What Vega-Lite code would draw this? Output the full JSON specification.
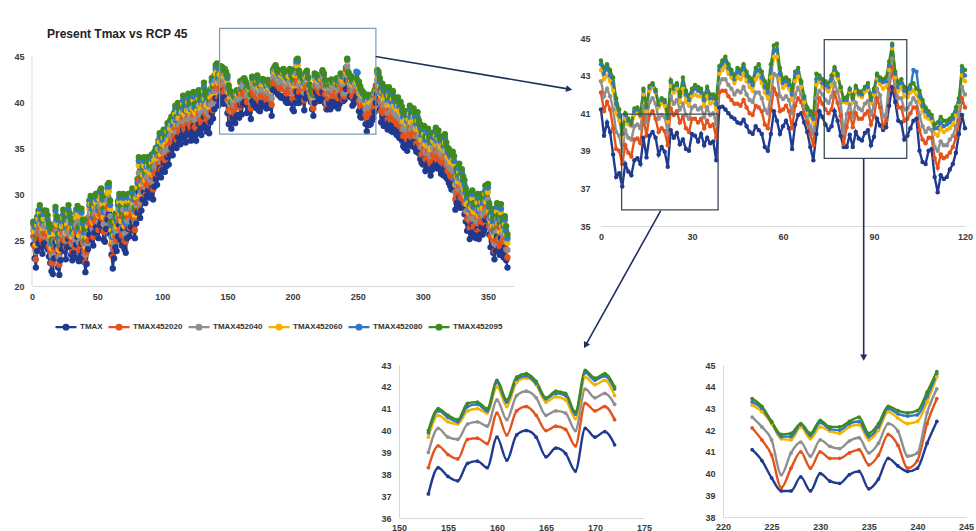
{
"$schema":"https://vega.github.io/schema/vega-lite/v6.json",
"background":"white",
"padding":{"top":27,"left":13,"right":3,"bottom":0},
"bounds":"full",
"spacing":0,
"resolve":{"legend":{"color":"independent"}},
"config":{"view":{"stroke":null},"axis":{"grid":false,"ticks":false,"labelFlush":false,"domainColor":"#d9d9d9","domainWidth":1,"labelFont":"Liberation Sans","labelFontSize":9,"labelFontWeight":"bold","labelColor":"#3a3a3a","labelPadding":6}},
"datasets":{"t":[
{"d":1,"a":24.5,"b":25.4,"c":26.0,"e":26.5,"f":26.8,"g":27.0},
{"d":2,"a":23.0,"b":24.3,"c":25.1,"e":25.9,"f":26.4,"g":26.8},
{"d":3,"a":22.0,"b":22.9,"c":23.7,"e":24.5,"f":25.0,"g":25.4},
{"d":4,"a":23.8,"b":25.0,"c":25.8,"e":26.6,"f":27.0,"g":27.5},
{"d":5,"a":24.6,"b":25.7,"c":26.5,"e":27.3,"f":27.8,"g":28.2},
{"d":6,"a":25.0,"b":26.3,"c":27.1,"e":27.9,"f":28.4,"g":28.8},
{"d":7,"a":24.2,"b":25.1,"c":25.9,"e":26.7,"f":27.2,"g":27.6},
{"d":8,"a":23.5,"b":24.7,"c":25.5,"e":26.3,"f":26.7,"g":27.2},
{"d":9,"a":24.6,"b":25.7,"c":26.5,"e":27.3,"f":27.8,"g":28.2},
{"d":10,"a":24.4,"b":25.7,"c":26.5,"e":27.3,"f":27.8,"g":28.2},
{"d":11,"a":24.8,"b":25.7,"c":26.5,"e":27.3,"f":27.8,"g":28.2},
{"d":12,"a":24.0,"b":25.2,"c":26.0,"e":26.8,"f":27.2,"g":27.7},
{"d":13,"a":23.2,"b":24.3,"c":25.1,"e":25.9,"f":26.4,"g":26.8},
{"d":14,"a":22.5,"b":23.8,"c":24.6,"e":25.4,"f":25.9,"g":26.3},
{"d":15,"a":21.6,"b":22.5,"c":23.3,"e":24.1,"f":24.6,"g":25.0},
{"d":16,"a":21.3,"b":22.5,"c":23.3,"e":24.1,"f":24.5,"g":25.0},
{"d":17,"a":23.0,"b":24.1,"c":24.9,"e":25.7,"f":26.2,"g":26.6},
{"d":18,"a":24.8,"b":26.1,"c":26.9,"e":27.7,"f":28.2,"g":28.6},
{"d":19,"a":24.2,"b":25.1,"c":25.9,"e":26.7,"f":27.2,"g":27.6},
{"d":20,"a":22.0,"b":23.2,"c":24.0,"e":24.8,"f":25.2,"g":25.7},
{"d":21,"a":21.2,"b":22.3,"c":23.1,"e":23.9,"f":24.4,"g":24.8},
{"d":22,"a":22.8,"b":24.1,"c":24.9,"e":25.7,"f":26.2,"g":26.6},
{"d":23,"a":24.0,"b":24.9,"c":25.7,"e":26.5,"f":27.0,"g":27.4},
{"d":24,"a":24.6,"b":25.8,"c":26.6,"e":27.4,"f":27.8,"g":28.3},
{"d":25,"a":23.8,"b":24.9,"c":25.7,"e":26.5,"f":27.0,"g":27.4},
{"d":26,"a":22.9,"b":24.2,"c":25.0,"e":25.8,"f":26.3,"g":26.7},
{"d":27,"a":24.2,"b":25.1,"c":25.9,"e":26.7,"f":27.2,"g":27.6},
{"d":28,"a":25.1,"b":26.3,"c":27.1,"e":27.9,"f":28.3,"g":28.8},
{"d":29,"a":24.3,"b":25.4,"c":26.2,"e":27.0,"f":27.5,"g":27.9},
{"d":30,"a":23.4,"b":24.7,"c":25.5,"e":26.3,"f":26.8,"g":27.2},
{"d":31,"a":22.8,"b":23.7,"c":24.5,"e":25.3,"f":25.8,"g":26.2},
{"d":32,"a":23.6,"b":24.8,"c":25.6,"e":26.4,"f":26.8,"g":27.3},
{"d":33,"a":23.1,"b":24.2,"c":25.0,"e":25.8,"f":26.3,"g":26.7},
{"d":34,"a":24.5,"b":25.8,"c":26.6,"e":27.4,"f":27.9,"g":28.3},
{"d":35,"a":25.3,"b":26.2,"c":27.0,"e":27.8,"f":28.3,"g":28.7},
{"d":36,"a":22.7,"b":23.9,"c":24.7,"e":25.5,"f":25.9,"g":26.4},
{"d":37,"a":23.0,"b":24.1,"c":24.9,"e":25.7,"f":26.2,"g":26.6},
{"d":38,"a":24.6,"b":25.9,"c":26.7,"e":27.5,"f":28.0,"g":28.4},
{"d":39,"a":23.8,"b":24.7,"c":25.5,"e":26.3,"f":26.8,"g":27.2},
{"d":40,"a":22.6,"b":23.8,"c":24.6,"e":25.4,"f":25.8,"g":26.3},
{"d":41,"a":21.5,"b":22.6,"c":23.4,"e":24.2,"f":24.7,"g":25.1},
{"d":42,"a":22.4,"b":23.7,"c":24.5,"e":25.3,"f":25.8,"g":26.2},
{"d":43,"a":24.0,"b":24.9,"c":25.7,"e":26.5,"f":27.0,"g":27.4},
{"d":44,"a":25.6,"b":26.8,"c":27.6,"e":28.4,"f":28.8,"g":29.3},
{"d":45,"a":26.2,"b":27.3,"c":28.1,"e":28.9,"f":29.4,"g":29.8},
{"d":46,"a":25.0,"b":26.3,"c":27.1,"e":27.9,"f":28.4,"g":28.8},
{"d":47,"a":24.4,"b":25.3,"c":26.1,"e":26.9,"f":27.4,"g":27.8},
{"d":48,"a":25.8,"b":27.0,"c":27.8,"e":28.6,"f":29.0,"g":29.5},
{"d":49,"a":26.4,"b":27.5,"c":28.3,"e":29.1,"f":29.6,"g":30.0},
{"d":50,"a":26.0,"b":27.3,"c":28.1,"e":28.9,"f":29.4,"g":29.8},
{"d":51,"a":25.2,"b":26.1,"c":26.9,"e":27.7,"f":28.2,"g":28.6},
{"d":52,"a":26.6,"b":27.8,"c":28.6,"e":29.4,"f":29.8,"g":30.3},
{"d":53,"a":27.0,"b":28.1,"c":28.9,"e":29.7,"f":30.2,"g":30.6},
{"d":54,"a":26.0,"b":27.3,"c":28.1,"e":28.9,"f":29.4,"g":29.8},
{"d":55,"a":25.0,"b":25.9,"c":26.7,"e":27.5,"f":28.0,"g":28.4},
{"d":56,"a":24.8,"b":26.0,"c":26.8,"e":27.6,"f":28.0,"g":28.5},
{"d":57,"a":26.2,"b":27.3,"c":28.1,"e":28.9,"f":29.4,"g":29.8},
{"d":58,"a":27.2,"b":28.5,"c":29.3,"e":30.1,"f":30.6,"g":31.0},
{"d":59,"a":27.8,"b":28.7,"c":29.5,"e":30.3,"f":30.8,"g":31.2},
{"d":60,"a":25.6,"b":26.8,"c":27.6,"e":28.4,"f":28.8,"g":29.3},
{"d":61,"a":23.4,"b":24.5,"c":25.3,"e":26.1,"f":26.6,"g":27.0},
{"d":62,"a":21.9,"b":23.2,"c":24.0,"e":24.8,"f":25.3,"g":25.7},
{"d":63,"a":23.0,"b":23.9,"c":24.7,"e":25.5,"f":26.0,"g":26.4},
{"d":64,"a":24.2,"b":25.4,"c":26.2,"e":27.0,"f":27.4,"g":27.9},
{"d":65,"a":23.8,"b":24.9,"c":25.7,"e":26.5,"f":27.0,"g":27.4},
{"d":66,"a":25.4,"b":26.7,"c":27.5,"e":28.3,"f":28.8,"g":29.2},
{"d":67,"a":26.6,"b":27.5,"c":28.3,"e":29.1,"f":29.6,"g":30.0},
{"d":68,"a":25.0,"b":26.2,"c":27.0,"e":27.8,"f":28.2,"g":28.7},
{"d":69,"a":24.4,"b":25.5,"c":26.3,"e":27.1,"f":27.6,"g":28.0},
{"d":70,"a":26.2,"b":27.5,"c":28.3,"e":29.1,"f":29.6,"g":30.0},
{"d":71,"a":24.0,"b":24.9,"c":25.7,"e":26.5,"f":27.0,"g":27.4},
{"d":72,"a":23.6,"b":24.8,"c":25.6,"e":26.4,"f":26.8,"g":27.3},
{"d":73,"a":25.2,"b":26.3,"c":27.1,"e":27.9,"f":28.4,"g":28.8},
{"d":74,"a":26.2,"b":27.5,"c":28.3,"e":29.1,"f":29.6,"g":30.0},
{"d":75,"a":25.4,"b":26.3,"c":27.1,"e":27.9,"f":28.4,"g":28.8},
{"d":76,"a":26.4,"b":27.6,"c":28.4,"e":29.2,"f":29.6,"g":30.1},
{"d":77,"a":27.0,"b":28.1,"c":28.9,"e":29.7,"f":30.2,"g":30.6},
{"d":78,"a":26.0,"b":27.3,"c":28.1,"e":28.9,"f":29.4,"g":29.8},
{"d":79,"a":25.2,"b":26.1,"c":26.9,"e":27.7,"f":28.2,"g":28.6},
{"d":80,"a":26.8,"b":28.0,"c":28.8,"e":29.6,"f":30.0,"g":30.5},
{"d":81,"a":28.0,"b":29.1,"c":29.9,"e":30.7,"f":31.2,"g":31.6},
{"d":82,"a":30.2,"b":31.5,"c":32.3,"e":33.1,"f":33.6,"g":34.0},
{"d":83,"a":27.4,"b":28.3,"c":29.1,"e":29.9,"f":30.4,"g":30.8},
{"d":84,"a":28.2,"b":29.4,"c":30.2,"e":31.0,"f":31.4,"g":31.9},
{"d":85,"a":29.4,"b":30.5,"c":31.3,"e":32.1,"f":32.6,"g":33.0},
{"d":86,"a":30.2,"b":31.5,"c":32.3,"e":33.1,"f":33.6,"g":34.0},
{"d":87,"a":29.0,"b":29.9,"c":30.7,"e":31.5,"f":32.0,"g":32.4},
{"d":88,"a":29.8,"b":31.0,"c":31.8,"e":32.6,"f":33.0,"g":33.5},
{"d":89,"a":30.4,"b":31.5,"c":32.3,"e":33.1,"f":33.6,"g":34.0},
{"d":90,"a":29.6,"b":30.9,"c":31.7,"e":32.5,"f":33.0,"g":33.4},
{"d":91,"a":29.8,"b":30.7,"c":31.5,"e":32.3,"f":32.8,"g":33.2},
{"d":92,"a":30.6,"b":31.8,"c":32.6,"e":33.4,"f":33.8,"g":34.3},
{"d":93,"a":29.4,"b":30.5,"c":31.3,"e":32.1,"f":32.6,"g":33.0},
{"d":94,"a":30.8,"b":32.1,"c":32.9,"e":33.7,"f":34.2,"g":34.6},
{"d":95,"a":31.6,"b":32.5,"c":33.3,"e":34.1,"f":34.6,"g":35.0},
{"d":96,"a":31.0,"b":32.2,"c":33.0,"e":33.8,"f":34.2,"g":34.7},
{"d":97,"a":32.2,"b":33.3,"c":34.1,"e":34.9,"f":35.4,"g":35.8},
{"d":98,"a":32.8,"b":34.1,"c":34.9,"e":35.7,"f":36.2,"g":36.6},
{"d":99,"a":31.8,"b":32.7,"c":33.5,"e":34.3,"f":34.8,"g":35.2},
{"d":100,"a":32.6,"b":33.8,"c":34.6,"e":35.4,"f":35.8,"g":36.3},
{"d":101,"a":33.4,"b":34.5,"c":35.3,"e":36.1,"f":36.6,"g":37.0},
{"d":102,"a":32.4,"b":33.7,"c":34.5,"e":35.3,"f":35.8,"g":36.2},
{"d":103,"a":33.0,"b":33.9,"c":34.7,"e":35.5,"f":36.0,"g":36.4},
{"d":104,"a":34.0,"b":35.2,"c":36.0,"e":36.8,"f":37.2,"g":37.7},
{"d":105,"a":33.2,"b":34.3,"c":35.1,"e":35.9,"f":36.4,"g":36.8},
{"d":106,"a":34.2,"b":35.5,"c":36.3,"e":37.1,"f":37.6,"g":38.0},
{"d":107,"a":35.0,"b":35.9,"c":36.7,"e":37.5,"f":38.0,"g":38.4},
{"d":108,"a":34.2,"b":35.4,"c":36.2,"e":37.0,"f":37.4,"g":37.9},
{"d":109,"a":35.2,"b":36.3,"c":37.1,"e":37.9,"f":38.4,"g":38.8},
{"d":110,"a":35.8,"b":37.1,"c":37.9,"e":38.7,"f":39.2,"g":39.6},
{"d":111,"a":35.0,"b":35.9,"c":36.7,"e":37.5,"f":38.0,"g":38.4},
{"d":112,"a":36.2,"b":37.4,"c":38.2,"e":39.0,"f":39.4,"g":39.9},
{"d":113,"a":35.6,"b":36.7,"c":37.5,"e":38.3,"f":38.8,"g":39.2},
{"d":114,"a":35.4,"b":36.7,"c":37.5,"e":38.3,"f":38.8,"g":39.2},
{"d":115,"a":36.4,"b":37.3,"c":38.1,"e":38.9,"f":39.4,"g":39.8},
{"d":116,"a":37.0,"b":38.2,"c":39.0,"e":39.8,"f":40.2,"g":40.7},
{"d":117,"a":36.0,"b":37.1,"c":37.9,"e":38.7,"f":39.2,"g":39.6},
{"d":118,"a":35.6,"b":36.9,"c":37.7,"e":38.5,"f":39.0,"g":39.4},
{"d":119,"a":36.6,"b":37.5,"c":38.3,"e":39.1,"f":39.6,"g":40.0},
{"d":120,"a":37.2,"b":38.4,"c":39.2,"e":40.0,"f":40.4,"g":40.9},
{"d":121,"a":36.4,"b":37.5,"c":38.3,"e":39.1,"f":39.6,"g":40.0},
{"d":122,"a":35.8,"b":37.1,"c":37.9,"e":38.7,"f":39.2,"g":39.6},
{"d":123,"a":36.8,"b":37.7,"c":38.5,"e":39.3,"f":39.8,"g":40.2},
{"d":124,"a":37.4,"b":38.6,"c":39.4,"e":40.2,"f":40.6,"g":41.1},
{"d":125,"a":36.2,"b":37.3,"c":38.1,"e":38.9,"f":39.4,"g":39.8},
{"d":126,"a":35.8,"b":37.1,"c":37.9,"e":38.7,"f":39.2,"g":39.6},
{"d":127,"a":36.6,"b":37.5,"c":38.3,"e":39.1,"f":39.6,"g":40.0},
{"d":128,"a":37.6,"b":38.8,"c":39.6,"e":40.4,"f":40.8,"g":41.3},
{"d":129,"a":37.0,"b":38.1,"c":38.9,"e":39.7,"f":40.2,"g":40.6},
{"d":130,"a":36.4,"b":37.7,"c":38.5,"e":39.3,"f":39.8,"g":40.2},
{"d":131,"a":37.2,"b":38.1,"c":38.9,"e":39.7,"f":40.2,"g":40.6},
{"d":132,"a":38.4,"b":39.6,"c":40.4,"e":41.2,"f":41.6,"g":42.1},
{"d":133,"a":37.6,"b":38.7,"c":39.5,"e":40.3,"f":40.8,"g":41.2},
{"d":134,"a":36.8,"b":38.1,"c":38.9,"e":39.7,"f":40.2,"g":40.6},
{"d":135,"a":37.4,"b":38.3,"c":39.1,"e":39.9,"f":40.4,"g":40.8},
{"d":136,"a":36.6,"b":37.8,"c":38.6,"e":39.4,"f":39.8,"g":40.3},
{"d":137,"a":37.8,"b":38.9,"c":39.7,"e":40.5,"f":41.0,"g":41.4},
{"d":138,"a":38.8,"b":40.1,"c":40.9,"e":41.7,"f":42.2,"g":42.6},
{"d":139,"a":38.2,"b":39.1,"c":39.9,"e":40.7,"f":41.2,"g":41.6},
{"d":140,"a":39.2,"b":40.4,"c":41.2,"e":42.0,"f":42.4,"g":42.9},
{"d":141,"a":40.4,"b":41.5,"c":42.3,"e":43.1,"f":43.6,"g":44.0},
{"d":142,"a":40.4,"b":41.7,"c":42.5,"e":43.3,"f":43.8,"g":44.2},
{"d":143,"a":39.6,"b":40.5,"c":41.3,"e":42.1,"f":42.6,"g":43.0},
{"d":144,"a":40.2,"b":41.4,"c":42.2,"e":43.0,"f":43.4,"g":43.9},
{"d":145,"a":40.6,"b":41.7,"c":42.5,"e":43.2,"f":43.6,"g":43.9},
{"d":146,"a":41.2,"b":42.1,"c":42.7,"e":43.3,"f":43.6,"g":43.8},
{"d":147,"a":39.8,"b":41.1,"c":41.9,"e":42.8,"f":43.1,"g":43.4},
{"d":148,"a":40.5,"b":41.6,"c":42.3,"e":43.0,"f":43.4,"g":43.6},
{"d":149,"a":40.0,"b":41.2,"c":41.9,"e":42.7,"f":43.0,"g":43.3},
{"d":150,"a":38.8,"b":40.2,"c":41.2,"e":42.2,"f":42.6,"g":42.9},
{"d":151,"a":37.6,"b":39.1,"c":40.0,"e":41.0,"f":41.5,"g":41.8},
{"d":152,"a":37.8,"b":39.0,"c":39.8,"e":40.6,"f":40.9,"g":41.2},
{"d":153,"a":37.1,"b":38.3,"c":39.0,"e":39.7,"f":39.9,"g":40.0},
{"d":154,"a":38.3,"b":39.3,"c":40.1,"e":40.7,"f":40.9,"g":41.0},
{"d":155,"a":37.9,"b":38.9,"c":39.7,"e":40.4,"f":40.6,"g":40.7},
{"d":156,"a":37.7,"b":38.7,"c":39.6,"e":40.3,"f":40.4,"g":40.5},
{"d":157,"a":38.5,"b":39.6,"c":40.3,"e":40.9,"f":41.1,"g":41.25},
{"d":158,"a":38.6,"b":39.65,"c":40.4,"e":41.0,"f":41.2,"g":41.3},
{"d":159,"a":38.3,"b":39.4,"c":40.2,"e":40.8,"f":40.9,"g":41.0},
{"d":160,"a":39.7,"b":40.8,"c":41.4,"e":42.0,"f":42.2,"g":42.3},
{"d":161,"a":38.65,"b":39.8,"c":40.5,"e":41.1,"f":41.3,"g":41.4},
{"d":162,"a":39.8,"b":40.9,"c":41.6,"e":42.2,"f":42.35,"g":42.45},
{"d":163,"a":40.0,"b":41.1,"c":41.8,"e":42.4,"f":42.5,"g":42.6},
{"d":164,"a":39.7,"b":40.7,"c":41.5,"e":42.1,"f":42.15,"g":42.25},
{"d":165,"a":38.8,"b":40.0,"c":40.7,"e":41.3,"f":41.45,"g":41.5},
{"d":166,"a":39.2,"b":40.2,"c":40.9,"e":41.55,"f":41.7,"g":41.8},
{"d":167,"a":38.95,"b":40.05,"c":40.8,"e":41.4,"f":41.6,"g":41.7},
{"d":168,"a":38.15,"b":39.3,"c":40.0,"e":40.55,"f":40.75,"g":40.85},
{"d":169,"a":40.1,"b":41.25,"c":41.9,"e":42.45,"f":42.65,"g":42.75},
{"d":170,"a":39.7,"b":40.9,"c":41.5,"e":42.1,"f":42.3,"g":42.4},
{"d":171,"a":39.95,"b":41.1,"c":41.7,"e":42.3,"f":42.5,"g":42.6},
{"d":172,"a":39.35,"b":40.5,"c":41.2,"e":41.6,"f":41.9,"g":42.0},
{"d":173,"a":39.6,"b":40.8,"c":41.5,"e":42.3,"f":42.6,"g":42.9},
{"d":174,"a":39.1,"b":40.2,"c":40.9,"e":41.6,"f":42.0,"g":42.2},
{"d":175,"a":39.0,"b":40.0,"c":40.7,"e":41.4,"f":41.7,"g":41.9},
{"d":176,"a":39.9,"b":40.7,"c":41.3,"e":41.9,"f":42.1,"g":42.3},
{"d":177,"a":39.8,"b":40.7,"c":41.4,"e":42.0,"f":42.3,"g":42.5},
{"d":178,"a":39.5,"b":40.5,"c":41.2,"e":41.9,"f":42.2,"g":42.4},
{"d":179,"a":39.9,"b":40.7,"c":41.3,"e":41.9,"f":42.1,"g":42.3},
{"d":180,"a":39.3,"b":40.2,"c":40.8,"e":41.4,"f":41.7,"g":41.9},
{"d":181,"a":39.7,"b":40.6,"c":41.3,"e":41.9,"f":42.2,"g":42.4},
{"d":182,"a":39.4,"b":40.3,"c":40.9,"e":41.5,"f":41.8,"g":42.0},
{"d":183,"a":39.5,"b":40.4,"c":41.0,"e":41.6,"f":41.8,"g":42.0},
{"d":184,"a":38.5,"b":39.7,"c":40.4,"e":41.2,"f":41.5,"g":41.8},
{"d":185,"a":41.3,"b":42.1,"c":42.6,"e":43.1,"f":43.3,"g":43.5},
{"d":186,"a":41.35,"b":42.2,"c":42.8,"e":43.3,"f":43.6,"g":43.8},
{"d":187,"a":41.2,"b":42.2,"c":42.8,"e":43.5,"f":43.8,"g":44.0},
{"d":188,"a":41.0,"b":41.9,"c":42.5,"e":43.1,"f":43.4,"g":43.6},
{"d":189,"a":40.8,"b":41.7,"c":42.3,"e":42.9,"f":43.1,"g":43.3},
{"d":190,"a":40.7,"b":41.5,"c":42.0,"e":42.6,"f":42.8,"g":43.0},
{"d":191,"a":40.5,"b":41.5,"c":42.2,"e":42.9,"f":43.2,"g":43.4},
{"d":192,"a":40.45,"b":41.4,"c":42.1,"e":42.8,"f":43.1,"g":43.3},
{"d":193,"a":40.65,"b":41.7,"c":42.4,"e":43.1,"f":43.4,"g":43.6},
{"d":194,"a":40.3,"b":41.3,"c":42.0,"e":42.7,"f":43.0,"g":43.2},
{"d":195,"a":40.0,"b":41.0,"c":41.7,"e":42.4,"f":42.7,"g":42.9},
{"d":196,"a":39.9,"b":40.9,"c":41.6,"e":42.2,"f":42.5,"g":42.75},
{"d":197,"a":40.3,"b":41.4,"c":42.1,"e":42.8,"f":43.2,"g":43.4},
{"d":198,"a":40.1,"b":41.3,"c":42.1,"e":43.0,"f":43.3,"g":43.6},
{"d":199,"a":39.9,"b":41.1,"c":41.8,"e":42.6,"f":42.9,"g":43.2},
{"d":200,"a":39.2,"b":40.4,"c":41.2,"e":42.1,"f":42.4,"g":42.7},
{"d":201,"a":39.0,"b":40.2,"c":41.0,"e":41.8,"f":42.1,"g":42.4},
{"d":202,"a":39.9,"b":41.2,"c":42.0,"e":42.9,"f":43.3,"g":43.6},
{"d":203,"a":41.1,"b":42.3,"c":43.1,"e":44.0,"f":44.3,"g":44.6},
{"d":204,"a":40.6,"b":42.0,"c":43.0,"e":44.0,"f":44.4,"g":44.7},
{"d":205,"a":39.9,"b":41.1,"c":41.9,"e":42.8,"f":43.1,"g":43.4},
{"d":206,"a":40.3,"b":41.2,"c":41.75,"e":42.35,"f":42.6,"g":42.8},
{"d":207,"a":40.6,"b":41.4,"c":41.9,"e":42.5,"f":42.7,"g":42.9},
{"d":208,"a":40.2,"b":41.1,"c":41.7,"e":42.3,"f":42.5,"g":42.75},
{"d":209,"a":39.1,"b":40.2,"c":41.0,"e":41.7,"f":42.0,"g":42.3},
{"d":210,"a":40.4,"b":41.4,"c":42.0,"e":42.7,"f":43.0,"g":43.2},
{"d":211,"a":40.9,"b":41.8,"c":42.35,"e":42.95,"f":43.2,"g":43.4},
{"d":212,"a":41.0,"b":41.6,"c":42.0,"e":42.4,"f":42.6,"g":42.7},
{"d":213,"a":40.5,"b":41.0,"c":41.3,"e":41.6,"f":41.8,"g":41.9},
{"d":214,"a":40.0,"b":40.5,"c":40.75,"e":41.05,"f":41.2,"g":41.3},
{"d":215,"a":39.2,"b":39.9,"c":40.3,"e":40.8,"f":40.9,"g":41.1},
{"d":216,"a":38.5,"b":39.3,"c":39.9,"e":40.5,"f":40.7,"g":40.9},
{"d":217,"a":39.9,"b":41.0,"c":41.8,"e":42.5,"f":42.8,"g":43.1},
{"d":218,"a":41.1,"b":41.8,"c":42.2,"e":42.7,"f":42.85,"g":43.0},
{"d":219,"a":40.8,"b":41.5,"c":42.0,"e":42.4,"f":42.6,"g":42.8},
{"d":220,"a":40.4,"b":41.2,"c":41.7,"e":42.3,"f":42.5,"g":42.7},
{"d":221,"a":40.1,"b":41.0,"c":41.55,"e":42.15,"f":42.4,"g":42.6},
{"d":222,"a":40.3,"b":41.2,"c":41.9,"e":42.5,"f":42.8,"g":43.0},
{"d":223,"a":41.1,"b":42.1,"c":42.6,"e":43.15,"f":43.3,"g":43.45},
{"d":224,"a":40.6,"b":41.55,"c":42.15,"e":42.85,"f":43.0,"g":43.1},
{"d":225,"a":39.8,"b":40.85,"c":41.55,"e":42.3,"f":42.35,"g":42.4},
{"d":226,"a":39.2,"b":39.35,"c":39.95,"e":41.6,"f":41.7,"g":41.8},
{"d":227,"a":39.2,"b":40.25,"c":40.95,"e":41.55,"f":41.7,"g":41.85},
{"d":228,"a":39.85,"b":41.0,"c":41.45,"e":42.15,"f":42.25,"g":42.3},
{"d":229,"a":39.2,"b":40.25,"c":40.8,"e":41.6,"f":41.75,"g":41.85},
{"d":230,"a":40.0,"b":41.0,"c":41.55,"e":42.15,"f":42.35,"g":42.45},
{"d":231,"a":39.65,"b":40.7,"c":41.25,"e":41.95,"f":42.05,"g":42.15},
{"d":232,"a":39.55,"b":40.7,"c":41.15,"e":41.85,"f":42.0,"g":42.15},
{"d":233,"a":39.95,"b":40.95,"c":41.5,"e":42.15,"f":42.3,"g":42.4},
{"d":234,"a":40.1,"b":41.1,"c":41.65,"e":42.25,"f":42.4,"g":42.6},
{"d":235,"a":39.3,"b":40.4,"c":40.95,"e":41.55,"f":41.7,"g":41.85},
{"d":236,"a":39.75,"b":40.85,"c":41.4,"e":42.0,"f":42.15,"g":42.3},
{"d":237,"a":40.7,"b":41.8,"c":42.3,"e":42.85,"f":43.0,"g":43.1},
{"d":238,"a":40.35,"b":41.3,"c":41.95,"e":42.55,"f":42.75,"g":42.9},
{"d":239,"a":40.1,"b":40.25,"c":40.8,"e":42.3,"f":42.65,"g":42.8},
{"d":240,"a":40.25,"b":40.6,"c":40.95,"e":42.4,"f":42.7,"g":42.9},
{"d":241,"a":41.4,"b":42.3,"c":42.8,"e":43.3,"f":43.55,"g":43.75},
{"d":242,"a":42.4,"b":43.45,"c":43.9,"e":44.45,"f":44.6,"g":44.7},
{"d":243,"a":41.6,"b":42.2,"c":42.5,"e":42.9,"f":43.1,"g":43.2},
{"d":244,"a":40.6,"b":41.3,"c":41.8,"e":42.2,"f":42.4,"g":42.6},
{"d":245,"a":40.5,"b":41.3,"c":41.8,"e":42.4,"f":42.6,"g":42.8},
{"d":246,"a":39.6,"b":40.6,"c":41.2,"e":41.9,"f":42.2,"g":42.4},
{"d":247,"a":39.8,"b":40.7,"c":41.25,"e":41.85,"f":42.1,"g":42.3},
{"d":248,"a":40.2,"b":41.0,"c":41.5,"e":42.1,"f":42.3,"g":42.5},
{"d":249,"a":40.6,"b":41.3,"c":41.8,"e":42.2,"f":43.3,"g":42.6},
{"d":250,"a":40.7,"b":41.3,"c":41.6,"e":42.0,"f":43.2,"g":42.3},
{"d":251,"a":39.0,"b":40.1,"c":40.9,"e":41.6,"f":41.9,"g":42.2},
{"d":252,"a":38.4,"b":39.6,"c":40.3,"e":41.1,"f":41.4,"g":41.7},
{"d":253,"a":38.3,"b":39.4,"c":40.0,"e":40.8,"f":41.1,"g":41.3},
{"d":254,"a":39.0,"b":39.7,"c":40.2,"e":40.7,"f":40.9,"g":41.1},
{"d":255,"a":39.1,"b":39.7,"c":40.1,"e":40.6,"f":40.75,"g":40.9},
{"d":256,"a":37.6,"b":38.6,"c":39.2,"e":39.9,"f":40.2,"g":40.4},
{"d":257,"a":36.8,"b":38.1,"c":39.0,"e":39.8,"f":40.2,"g":40.5},
{"d":258,"a":37.7,"b":38.8,"c":39.5,"e":40.2,"f":40.5,"g":40.8},
{"d":259,"a":37.5,"b":38.6,"c":39.3,"e":40.0,"f":40.3,"g":40.6},
{"d":260,"a":37.6,"b":38.7,"c":39.3,"e":40.1,"f":40.4,"g":40.6},
{"d":261,"a":38.0,"b":38.9,"c":39.6,"e":40.2,"f":40.5,"g":40.7},
{"d":262,"a":38.3,"b":39.2,"c":39.8,"e":40.4,"f":40.7,"g":40.9},
{"d":263,"a":38.9,"b":39.7,"c":40.3,"e":40.9,"f":41.1,"g":41.3},
{"d":264,"a":39.9,"b":40.6,"c":41.0,"e":41.5,"f":41.6,"g":41.8},
{"d":265,"a":40.9,"b":41.8,"c":42.4,"e":43.0,"f":43.3,"g":43.5},
{"d":266,"a":40.2,"b":41.3,"c":42.0,"e":42.7,"f":43.0,"g":43.3},
{"d":267,"a":39.2,"b":40.1,"c":40.9,"e":41.7,"f":42.2,"g":42.6},
{"d":268,"a":37.8,"b":39.0,"c":39.8,"e":40.6,"f":41.0,"g":41.5},
{"d":269,"a":38.4,"b":39.5,"c":40.3,"e":41.1,"f":41.6,"g":42.0},
{"d":270,"a":37.4,"b":38.7,"c":39.5,"e":40.3,"f":40.8,"g":41.2},
{"d":271,"a":38.2,"b":39.1,"c":39.9,"e":40.7,"f":41.2,"g":41.6},
{"d":272,"a":37.6,"b":38.8,"c":39.6,"e":40.4,"f":40.8,"g":41.3},
{"d":273,"a":37.0,"b":38.1,"c":38.9,"e":39.7,"f":40.2,"g":40.6},
{"d":274,"a":37.8,"b":39.1,"c":39.9,"e":40.7,"f":41.2,"g":41.6},
{"d":275,"a":37.2,"b":38.1,"c":38.9,"e":39.7,"f":40.2,"g":40.6},
{"d":276,"a":36.8,"b":38.0,"c":38.8,"e":39.6,"f":40.0,"g":40.5},
{"d":277,"a":37.6,"b":38.7,"c":39.5,"e":40.3,"f":40.8,"g":41.2},
{"d":278,"a":36.7,"b":38.0,"c":38.8,"e":39.6,"f":40.1,"g":40.5},
{"d":279,"a":37.0,"b":37.9,"c":38.7,"e":39.5,"f":40.0,"g":40.4},
{"d":280,"a":36.4,"b":37.6,"c":38.4,"e":39.2,"f":39.6,"g":40.1},
{"d":281,"a":36.9,"b":38.0,"c":38.8,"e":39.6,"f":40.1,"g":40.5},
{"d":282,"a":36.1,"b":37.4,"c":38.2,"e":39.0,"f":39.5,"g":39.9},
{"d":283,"a":36.6,"b":37.5,"c":38.3,"e":39.1,"f":39.6,"g":40.0},
{"d":284,"a":35.8,"b":37.0,"c":37.8,"e":38.6,"f":39.0,"g":39.5},
{"d":285,"a":35.2,"b":36.3,"c":37.1,"e":37.9,"f":38.4,"g":38.8},
{"d":286,"a":35.0,"b":36.3,"c":37.1,"e":37.9,"f":38.4,"g":38.8},
{"d":287,"a":35.6,"b":36.5,"c":37.3,"e":38.1,"f":38.6,"g":39.0},
{"d":288,"a":34.7,"b":35.9,"c":36.7,"e":37.5,"f":37.9,"g":38.4},
{"d":289,"a":35.4,"b":36.5,"c":37.3,"e":38.1,"f":38.6,"g":39.0},
{"d":290,"a":35.8,"b":37.1,"c":37.9,"e":38.7,"f":39.2,"g":39.6},
{"d":291,"a":35.3,"b":36.2,"c":37.0,"e":37.8,"f":38.3,"g":38.7},
{"d":292,"a":35.2,"b":36.4,"c":37.2,"e":38.0,"f":38.4,"g":38.9},
{"d":293,"a":35.7,"b":36.8,"c":37.6,"e":38.4,"f":38.9,"g":39.3},
{"d":294,"a":35.0,"b":36.3,"c":37.1,"e":37.9,"f":38.4,"g":38.8},
{"d":295,"a":34.6,"b":35.5,"c":36.3,"e":37.1,"f":37.6,"g":38.0},
{"d":296,"a":35.2,"b":36.4,"c":37.2,"e":38.0,"f":38.4,"g":38.9},
{"d":297,"a":34.4,"b":35.5,"c":36.3,"e":37.1,"f":37.6,"g":38.0},
{"d":298,"a":33.8,"b":35.1,"c":35.9,"e":36.7,"f":37.2,"g":37.6},
{"d":299,"a":33.4,"b":34.3,"c":35.1,"e":35.9,"f":36.4,"g":36.8},
{"d":300,"a":33.2,"b":34.4,"c":35.2,"e":36.0,"f":36.4,"g":36.9},
{"d":301,"a":33.8,"b":34.9,"c":35.7,"e":36.5,"f":37.0,"g":37.4},
{"d":302,"a":32.5,"b":33.8,"c":34.6,"e":35.4,"f":35.9,"g":36.3},
{"d":303,"a":32.8,"b":33.7,"c":34.5,"e":35.3,"f":35.8,"g":36.2},
{"d":304,"a":33.4,"b":34.6,"c":35.4,"e":36.2,"f":36.6,"g":37.1},
{"d":305,"a":32.6,"b":33.7,"c":34.5,"e":35.3,"f":35.8,"g":36.2},
{"d":306,"a":32.0,"b":33.3,"c":34.1,"e":34.9,"f":35.4,"g":35.8},
{"d":307,"a":32.6,"b":33.5,"c":34.3,"e":35.1,"f":35.6,"g":36.0},
{"d":308,"a":33.0,"b":34.2,"c":35.0,"e":35.8,"f":36.2,"g":36.7},
{"d":309,"a":32.9,"b":34.0,"c":34.8,"e":35.6,"f":36.1,"g":36.5},
{"d":310,"a":33.4,"b":34.7,"c":35.5,"e":36.3,"f":36.8,"g":37.2},
{"d":311,"a":32.8,"b":33.7,"c":34.5,"e":35.3,"f":35.8,"g":36.2},
{"d":312,"a":33.2,"b":34.4,"c":35.2,"e":36.0,"f":36.4,"g":36.9},
{"d":313,"a":32.7,"b":33.8,"c":34.6,"e":35.4,"f":35.9,"g":36.3},
{"d":314,"a":32.2,"b":33.5,"c":34.3,"e":35.1,"f":35.6,"g":36.0},
{"d":315,"a":32.8,"b":33.7,"c":34.5,"e":35.3,"f":35.8,"g":36.2},
{"d":316,"a":32.0,"b":33.2,"c":34.0,"e":34.8,"f":35.2,"g":35.7},
{"d":317,"a":32.9,"b":34.0,"c":34.8,"e":35.6,"f":36.1,"g":36.5},
{"d":318,"a":31.8,"b":33.1,"c":33.9,"e":34.7,"f":35.2,"g":35.6},
{"d":319,"a":31.6,"b":32.5,"c":33.3,"e":34.1,"f":34.6,"g":35.0},
{"d":320,"a":31.2,"b":32.4,"c":33.2,"e":34.0,"f":34.4,"g":34.9},
{"d":321,"a":30.9,"b":32.0,"c":32.8,"e":33.6,"f":34.1,"g":34.5},
{"d":322,"a":30.5,"b":31.8,"c":32.6,"e":33.4,"f":33.9,"g":34.3},
{"d":323,"a":31.2,"b":32.1,"c":32.9,"e":33.7,"f":34.2,"g":34.6},
{"d":324,"a":30.4,"b":31.6,"c":32.4,"e":33.2,"f":33.6,"g":34.1},
{"d":325,"a":28.3,"b":29.4,"c":30.2,"e":31.0,"f":31.5,"g":31.9},
{"d":326,"a":29.0,"b":30.3,"c":31.1,"e":31.9,"f":32.4,"g":32.8},
{"d":327,"a":28.9,"b":29.8,"c":30.6,"e":31.4,"f":31.9,"g":32.3},
{"d":328,"a":29.6,"b":30.8,"c":31.6,"e":32.4,"f":32.8,"g":33.3},
{"d":329,"a":28.5,"b":29.6,"c":30.4,"e":31.2,"f":31.7,"g":32.1},
{"d":330,"a":28.9,"b":30.2,"c":31.0,"e":31.8,"f":32.3,"g":32.7},
{"d":331,"a":28.5,"b":29.4,"c":30.2,"e":31.0,"f":31.5,"g":31.9},
{"d":332,"a":27.8,"b":29.0,"c":29.8,"e":30.6,"f":31.0,"g":31.5},
{"d":333,"a":27.0,"b":28.1,"c":28.9,"e":29.7,"f":30.2,"g":30.6},
{"d":334,"a":26.0,"b":27.3,"c":28.1,"e":28.9,"f":29.4,"g":29.8},
{"d":335,"a":26.6,"b":27.5,"c":28.3,"e":29.1,"f":29.6,"g":30.0},
{"d":336,"a":25.1,"b":26.3,"c":27.1,"e":27.9,"f":28.3,"g":28.8},
{"d":337,"a":25.8,"b":26.9,"c":27.7,"e":28.5,"f":29.0,"g":29.4},
{"d":338,"a":26.6,"b":27.9,"c":28.7,"e":29.5,"f":30.0,"g":30.4},
{"d":339,"a":25.6,"b":26.5,"c":27.3,"e":28.1,"f":28.6,"g":29.0},
{"d":340,"a":25.3,"b":26.5,"c":27.3,"e":28.1,"f":28.5,"g":29.0},
{"d":341,"a":25.2,"b":26.3,"c":27.1,"e":27.9,"f":28.4,"g":28.8},
{"d":342,"a":26.2,"b":27.5,"c":28.3,"e":29.1,"f":29.6,"g":30.0},
{"d":343,"a":25.1,"b":26.0,"c":26.8,"e":27.6,"f":28.1,"g":28.5},
{"d":344,"a":25.6,"b":26.8,"c":27.6,"e":28.4,"f":28.8,"g":29.3},
{"d":345,"a":26.4,"b":27.5,"c":28.3,"e":29.1,"f":29.6,"g":30.0},
{"d":346,"a":25.6,"b":26.9,"c":27.7,"e":28.5,"f":29.0,"g":29.4},
{"d":347,"a":26.0,"b":26.9,"c":27.7,"e":28.5,"f":29.0,"g":29.4},
{"d":348,"a":27.2,"b":28.4,"c":29.2,"e":30.0,"f":30.4,"g":30.9},
{"d":349,"a":26.4,"b":27.5,"c":28.3,"e":29.1,"f":29.6,"g":30.0},
{"d":350,"a":27.3,"b":28.6,"c":29.4,"e":30.2,"f":30.7,"g":31.1},
{"d":351,"a":25.6,"b":26.5,"c":27.3,"e":28.1,"f":28.6,"g":29.0},
{"d":352,"a":24.2,"b":25.4,"c":26.2,"e":27.0,"f":27.4,"g":27.9},
{"d":353,"a":24.8,"b":25.9,"c":26.7,"e":27.5,"f":28.0,"g":28.4},
{"d":354,"a":23.6,"b":24.9,"c":25.7,"e":26.5,"f":27.0,"g":27.4},
{"d":355,"a":22.9,"b":23.8,"c":24.6,"e":25.4,"f":25.9,"g":26.3},
{"d":356,"a":23.8,"b":25.0,"c":25.8,"e":26.6,"f":27.0,"g":27.5},
{"d":357,"a":25.4,"b":26.5,"c":27.3,"e":28.1,"f":28.6,"g":29.0},
{"d":358,"a":23.9,"b":25.2,"c":26.0,"e":26.8,"f":27.3,"g":27.7},
{"d":359,"a":23.4,"b":24.3,"c":25.1,"e":25.9,"f":26.4,"g":26.8},
{"d":360,"a":25.2,"b":26.4,"c":27.2,"e":28.0,"f":28.4,"g":28.9},
{"d":361,"a":23.8,"b":24.9,"c":25.7,"e":26.5,"f":27.0,"g":27.4},
{"d":362,"a":23.1,"b":24.4,"c":25.2,"e":26.0,"f":26.5,"g":26.9},
{"d":363,"a":24.2,"b":25.1,"c":25.9,"e":26.7,"f":27.2,"g":27.6},
{"d":364,"a":22.8,"b":24.0,"c":24.8,"e":25.6,"f":26.0,"g":26.5},
{"d":365,"a":22.0,"b":23.1,"c":23.9,"e":24.7,"f":25.2,"g":25.6}
]},
"vconcat":[
{"hconcat":[
 {"width":482,"height":248,
  "title":{"text":"Present Tmax vs RCP 45","anchor":"start","frame":"group","fontSize":12,"fontWeight":"bold","font":"Liberation Sans","color":"#222222","dx":15,"offset":0,"dy":13},
  "encoding":{
   "x":{"field":"d","type":"quantitative","title":null,"scale":{"domain":[0,370],"nice":false,"zero":false},"axis":{"values":[0,50,100,150,200,250,300,350],"labelPadding":6}},
   "y":{"field":"v","type":"quantitative","title":null,"scale":{"domain":[20,46.957],"nice":false,"zero":false},"axis":{"values":[20,25,30,35,40,45],"labelPadding":8,"domain":false}}
  },
  "layer":[
   {"data":{"values":[{"d":0,"v":20,"v2":45}]},"mark":{"type":"rule","stroke":"#d9d9d9","strokeWidth":1},"encoding":{"y2":{"field":"v2"}}},
   {"data":{"name":"t"},"transform":[{"fold":["a","b","c","e","f","g"],"as":["k","v"]}],
    "encoding":{
     "color":{"field":"k","type":"nominal","scale":{"domain":["a","b","c","e","f","g"],"range":["#1F3A8F","#E4531B","#8F8F8F","#F5B301","#2F78C4","#3E8A1E"]},
      "legend":{"orient":"none","legendX":22,"legendY":277,"direction":"horizontal","title":null,"symbolType":"M-1,0L1,0M-0.22,0A0.22,0.22,0,1,1,0.22,0A0.22,0.22,0,1,1,-0.22,0","symbolSize":440,"symbolStrokeWidth":2.2,"labelFont":"Liberation Sans","labelFontSize":8,"labelFontWeight":"bold","labelColor":"#333333","columnPadding":1,"labelOffset":2,
       "labelExpr":"datum.label=='a'?'TMAX':datum.label=='b'?'TMAX452020':datum.label=='c'?'TMAX452040':datum.label=='e'?'TMAX452060':datum.label=='f'?'TMAX452080':'TMAX452095'",
       "encode":{"symbols":{"update":{"fill":{"scale":"color","field":"value"},"stroke":{"scale":"color","field":"value"},"fillOpacity":{"value":1},"strokeOpacity":{"value":1}}}}}}
    },
    "layer":[
     {"mark":{"type":"line","strokeWidth":2.2}},
     {"mark":{"type":"point","filled":true,"size":40,"opacity":1}}
    ]},
   {"data":{"values":[{"d":144,"d2":264,"v":36.5,"v2":48}]},
    "mark":{"type":"rect","fillOpacity":0,"stroke":"#7d9db3","strokeWidth":1.2},
    "encoding":{"x2":{"field":"d2"},"y2":{"field":"v2"}}}
  ]},
 {"width":364,"height":188,
  "encoding":{
   "x":{"field":"d","type":"quantitative","title":null,"scale":{"domain":[146,266],"nice":false,"zero":false},"axis":{"values":[146,176,206,236,266],"labelExpr":"'' + (datum.value - 146)","labelPadding":6}},
   "y":{"field":"v","type":"quantitative","title":null,"scale":{"domain":[35,45],"nice":false,"zero":false},"axis":{"values":[35,37,39,41,43,45],"domain":false,"labelPadding":11}}
  },
  "layer":[
   {"data":{"name":"t"},"transform":[{"fold":["a","b","c","e","f","g"],"as":["k","v"]},{"filter":"datum.d >= 146 && datum.d <= 266"}],
    "encoding":{"color":{"field":"k","type":"nominal","legend":null}},
    "layer":[
     {"mark":{"type":"line","strokeWidth":2.4}},
     {"mark":{"type":"point","filled":true,"size":20,"opacity":1}}
    ]},
   {"data":{"values":[{"d":152.8,"d2":184.6,"v":35.86,"v2":40.95},{"d":219.6,"d2":246.8,"v":38.6,"v2":44.91}]},
    "mark":{"type":"rect","fillOpacity":0,"stroke":"#3c4a5c","strokeWidth":1.3},
    "encoding":{"x2":{"field":"d2"},"y2":{"field":"v2"}}},
   {"data":{"values":[{"d":71.7,"v":44.02,"d2":135.5,"v2":42.28},{"d":165.7,"v":35.82,"d2":140.9,"v2":28.65},{"d":232.6,"v":38.6,"d2":232.6,"v2":28.0}]},
    "mark":{"type":"rule","stroke":"#1f3060","strokeWidth":1.6},
    "encoding":{"x2":{"field":"d2"},"y2":{"field":"v2"}}},
   {"data":{"values":[{"d":135.5,"v":42.28}]},
    "mark":{"type":"point","shape":"triangle-right","angle":9.6,"filled":true,"size":50,"color":"#1f3060","opacity":1}},
   {"data":{"values":[{"d":140.9,"v":28.65}]},
    "mark":{"type":"point","shape":"triangle-right","angle":119,"filled":true,"size":50,"color":"#1f3060","opacity":1}},
   {"data":{"values":[{"d":232.6,"v":28.0}]},
    "mark":{"type":"point","shape":"triangle-right","angle":90,"filled":true,"size":50,"color":"#1f3060","opacity":1}}
  ]}
],"spacing":87,"bounds":"flush","resolve":{"legend":{"color":"independent"}}},
{"hconcat":[
 {"width":288,"height":1,"data":{"values":[{"z":0}]},"mark":{"type":"point","opacity":0},"encoding":{}},
 {"width":245,"height":153,
  "data":{"name":"t"},"transform":[{"fold":["a","b","c","e","f","g"],"as":["k","v"]},{"filter":"datum.d >= 153 && datum.d <= 172"}],
  "encoding":{
   "x":{"field":"d","type":"quantitative","title":null,"scale":{"domain":[150,175],"nice":false,"zero":false},"axis":{"values":[150,155,160,165,170,175],"labelPadding":5}},
   "y":{"field":"v","type":"quantitative","title":null,"scale":{"domain":[36,43],"nice":false,"zero":false},"axis":{"values":[36,37,38,39,40,41,42,43],"labelPadding":8}},
   "color":{"field":"k","type":"nominal","legend":null}
  },
  "layer":[
   {"mark":{"type":"line","strokeWidth":2.4,"interpolate":"monotone"}},
   {"mark":{"type":"point","filled":true,"size":14,"opacity":1}}
  ]},
 {"width":243,"height":152,
  "data":{"name":"t"},"transform":[{"fold":["a","b","c","e","f","g"],"as":["k","v"]},{"filter":"datum.d >= 223 && datum.d <= 242"}],
  "encoding":{
   "x":{"field":"d","type":"quantitative","title":null,"scale":{"domain":[220,245],"nice":false,"zero":false},"axis":{"values":[220,225,230,235,240,245],"labelPadding":5}},
   "y":{"field":"v","type":"quantitative","title":null,"scale":{"domain":[38,45],"nice":false,"zero":false},"axis":{"values":[38,39,40,41,42,43,44,45],"labelPadding":8}},
   "color":{"field":"k","type":"nominal","legend":null}
  },
  "layer":[
   {"mark":{"type":"line","strokeWidth":2.4,"interpolate":"monotone"}},
   {"mark":{"type":"point","filled":true,"size":14,"opacity":1}}
  ]}
],"spacing":79,"bounds":"flush","resolve":{"legend":{"color":"independent"}}}
]
}
